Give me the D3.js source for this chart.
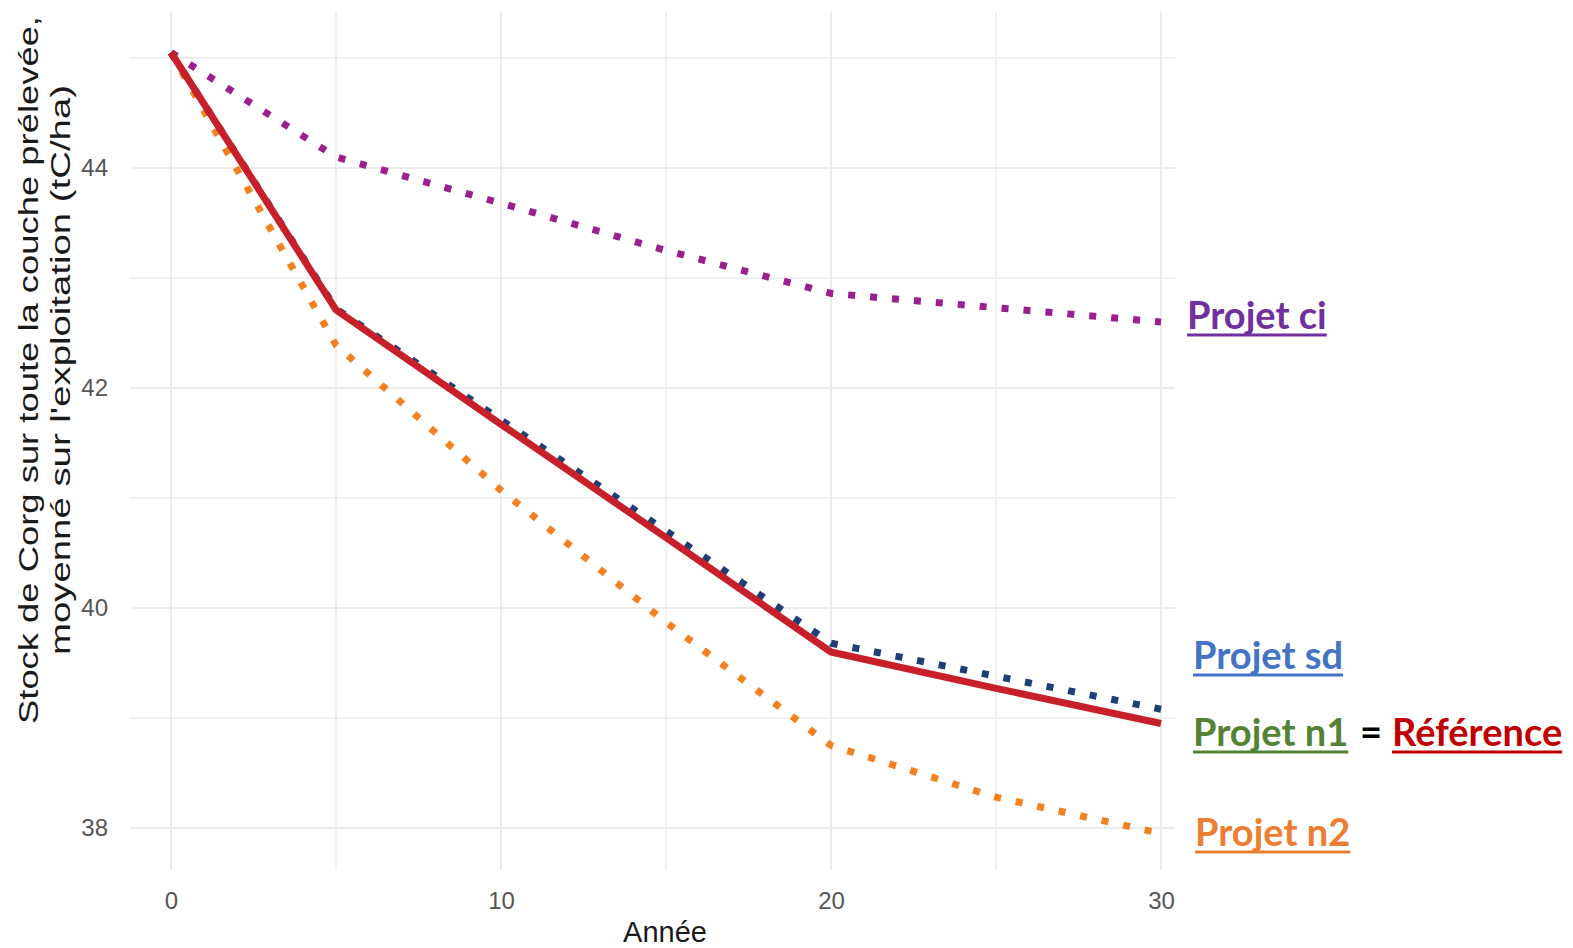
<!DOCTYPE html>
<html>
<head>
<meta charset="utf-8">
<script src="https://cdn.jsdelivr.net/npm/d3@7"></script>
<style>
  body { margin: 0; background: #fff; }
  svg { display: block; }
</style>
</head>
<body>
<div id="chart"></div>
<script>
// Data
const years = [0, 5, 10, 15, 20, 25, 30];
const projetCi = [45.05, 44.1, 43.68, 43.25, 42.86, 42.73, 42.6];
const projetSd = [45.05, 42.72, 41.71, 40.7, 39.68, 39.38, 39.08];
const reference = [45.05, 42.71, 41.67, 40.64, 39.6, 39.27, 38.95];
const projetN2 = [45.05, 42.39, 41.07, 39.87, 38.75, 38.28, 37.95];
const yTicks = [38, 40, 42, 44];
const xTicks = [0, 10, 20, 30];

const width = 1573;
const height = 948;

const svg = d3.select("#chart")
  .append("svg")
  .attr("width", width)
  .attr("height", height);

const xScale = d3.scaleLinear().domain([0, 30]).range([171, 1161]);
const yScale = d3.scaleLinear().domain([38, 44]).range([828, 168]);

const panelLeft = 130, panelRight = 1175, panelTop = 12, panelBottom = 870;

// grid lines (major + minor)
const grid = svg.append("g");
grid.selectAll(".hgrid")
  .data(d3.range(38, 45.5, 1))
  .join("line")
    .attr("x1", panelLeft).attr("x2", panelRight)
    .attr("y1", d => yScale(d)).attr("y2", d => yScale(d))
    .attr("stroke", "#ebebeb")
    .attr("stroke-width", d => d % 2 === 0 ? 2 : 1.5);

grid.selectAll(".vgrid")
  .data(d3.range(0, 31, 5))
  .join("line")
    .attr("y1", panelTop).attr("y2", panelBottom)
    .attr("x1", d => xScale(d)).attr("x2", d => xScale(d))
    .attr("stroke", "#ebebeb")
    .attr("stroke-width", d => d % 10 === 0 ? 2 : 1.5);

// axes (labels only)
const leftAxis = d3.axisLeft(yScale).tickValues(yTicks).tickFormat(d3.format("d")).tickSize(0).tickPadding(22);
const bottomAxis = d3.axisBottom(xScale).tickValues(xTicks).tickFormat(d3.format("d")).tickSize(0).tickPadding(22);

svg.append("g")
  .attr("transform", `translate(${panelLeft},0)`)
  .call(leftAxis)
  .attr("font-family", "Liberation Sans, Arial, sans-serif")
  .attr("font-size", 24)
  .call(g => g.select(".domain").remove())
  .selectAll("text")
    .attr("fill", "#555");

svg.append("g")
  .attr("transform", `translate(0,${panelBottom})`)
  .call(bottomAxis)
  .attr("font-family", "Liberation Sans, Arial, sans-serif")
  .attr("font-size", 24)
  .call(g => g.select(".domain").remove())
  .selectAll("text")
    .attr("fill", "#555");

// axis titles
svg.append("text")
  .text("Année")
  .attr("x", 665)
  .attr("y", 942)
  .attr("text-anchor", "middle")
  .attr("font-family", "Liberation Sans, Arial, sans-serif")
  .attr("font-size", 29)
  .attr("fill", "#1a1a1a");

const yTitle = svg.append("text")
  .attr("transform", "translate(38,370) rotate(-90)")
  .attr("text-anchor", "middle")
  .attr("font-family", "Liberation Sans, Arial, sans-serif")
  .attr("font-size", 27)
  .attr("fill", "#1a1a1a");
yTitle.append("tspan").attr("x", 0).attr("dy", 0)
  .attr("textLength", 708).attr("lengthAdjust", "spacingAndGlyphs")
  .text("Stock de Corg sur toute la couche prélevée,");
yTitle.append("tspan").attr("x", 0).attr("dy", 32)
  .attr("textLength", 570).attr("lengthAdjust", "spacingAndGlyphs")
  .text("moyenné sur l'exploitation (tC/ha)");

// lines
const line = d3.line()
  .x(d => xScale(d[0]))
  .y(d => yScale(d[1]));

const series = [
  { values: projetCi, color: "#9b1f8f", dash: "7,15" },
  { values: projetN2, color: "#f5801f", dash: "7,15" },
  { values: projetSd, color: "#1d3f73", dash: "7,15" },
  { values: reference, color: "#c8202a", dash: null }
];

svg.selectAll(".serie")
  .data(series)
  .join("path")
    .attr("class", "serie")
    .attr("d", s => line(years.map((y, i) => [y, s.values[i]])))
    .attr("fill", "none")
    .attr("stroke", s => s.color)
    .attr("stroke-width", 7)
    .attr("stroke-dasharray", s => s.dash)
    .attr("stroke-linejoin", "round");

// labels on the right
const labels = [
  { t: "Projet ci", c: "#7030a0", u: true, x: 1187, y: 329 },
  { t: "Projet sd", c: "#4472c4", u: true, x: 1193, y: 669 },
  { t: "Projet n1", c: "#548235", u: true, x: 1193, y: 746 },
  { t: "=", c: "#000", u: false, x: 1360, y: 746 },
  { t: "Référence", c: "#c00000", u: true, x: 1392, y: 746 },
  { t: "Projet n2", c: "#ed7d31", u: true, x: 1195, y: 846 }
];

labels.forEach(l => {
  const t = svg.append("text")
    .attr("x", l.x)
    .attr("y", l.y)
    .attr("font-family", "Lato, 'Open Sans', sans-serif")
    .attr("font-weight", "bold")
    .attr("font-size", 38)
    .attr("fill", l.c)
    .text(l.t);
  const w = t.node().getComputedTextLength();
  if (l.u) {
    svg.append("line")
      .attr("x1", l.x).attr("x2", l.x + w)
      .attr("y1", l.y + 6).attr("y2", l.y + 6)
      .attr("stroke", l.c)
      .attr("stroke-width", 3);
  }
});
</script>
</body>
</html>
